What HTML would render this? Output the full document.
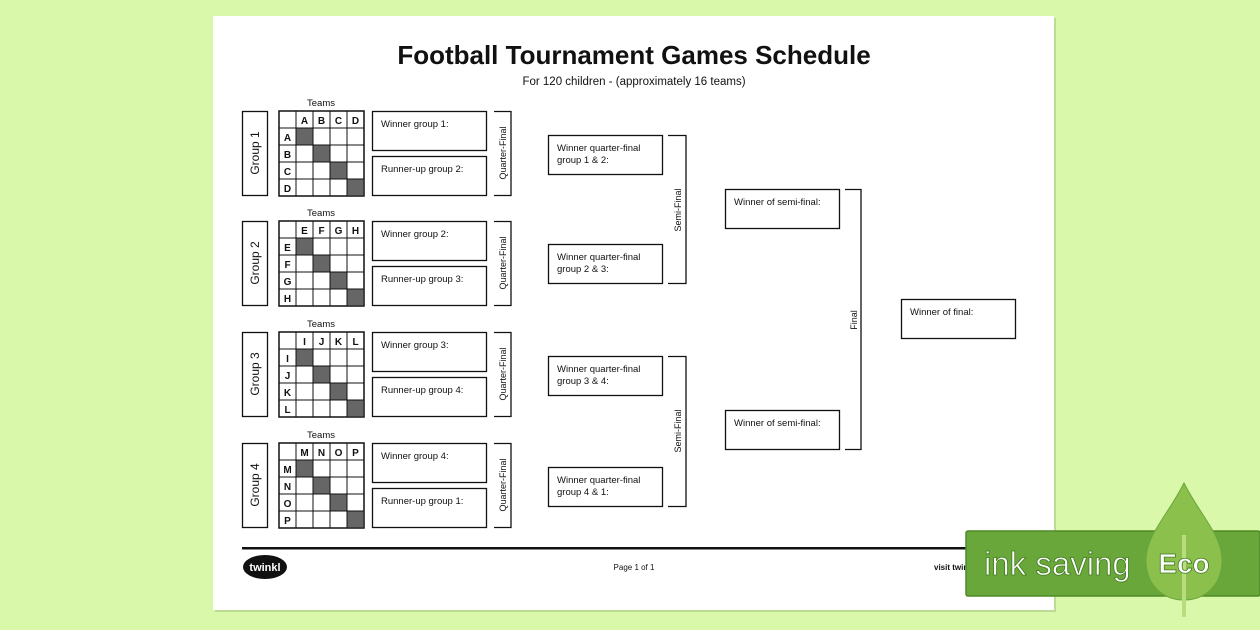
<!DOCTYPE html>
<html><head><meta charset="utf-8"><style>
html,body{margin:0;padding:0;background:#daf8a9;}
svg{display:block;font-family:"Liberation Sans",sans-serif;}
</style></head><body>
<svg width="1260" height="630" viewBox="0 0 1260 630" xmlns="http://www.w3.org/2000/svg">
<rect width="1260" height="630" fill="#daf8a9"/>
<rect x="215" y="18" width="841" height="594" fill="#a9c98a" opacity="0.6"/>
<rect x="213" y="16" width="841" height="594" fill="#fff"/>
<text x="634" y="64" text-anchor="middle" font-size="26" font-weight="bold" fill="#111">Football Tournament Games Schedule</text>
<text x="634" y="85" text-anchor="middle" font-size="11.5" fill="#111">For 120 children - (approximately 16 teams)</text>
<defs>
<g id="grp" fill="none" stroke="#111">
<rect x="242.5" y="0.5" width="25" height="84" stroke-width="1.3"/>
<rect x="279" y="0" width="85" height="85" stroke-width="1.5"/>
<path d="M296 0V85M313 0V85M330 0V85M347 0V85M279 17H364M279 34H364M279 51H364M279 68H364" stroke-width="1"/>
<rect x="296" y="17" width="17" height="17" fill="#666" stroke="#111"/>
<rect x="313" y="34" width="17" height="17" fill="#666" stroke="#111"/>
<rect x="330" y="51" width="17" height="17" fill="#666" stroke="#111"/>
<rect x="347" y="68" width="17" height="17" fill="#666" stroke="#111"/>
<rect x="372.5" y="0.5" width="114" height="39" stroke-width="1.3"/>
<rect x="372.5" y="45.5" width="114" height="39" stroke-width="1.3"/>
<path d="M494 0.5H511V84.5H494" stroke-width="1.3"/>
</g>
</defs>
<g font-size="11" fill="#111">
<!-- group 1 -->
<g transform="translate(0,111)"><use href="#grp"/>
<text x="321" y="-5" text-anchor="middle" font-size="9.5">Teams</text>
<text transform="translate(259,42) rotate(-90)" text-anchor="middle" font-size="12">Group 1</text>
<g font-weight="bold" font-size="10" text-anchor="middle"><text x="304.5" y="13">A</text><text x="321.5" y="13">B</text><text x="338.5" y="13">C</text><text x="355.5" y="13">D</text>
<text x="287.5" y="30">A</text><text x="287.5" y="47">B</text><text x="287.5" y="64">C</text><text x="287.5" y="81">D</text></g>
<text x="381" y="16" font-size="9.5">Winner group 1:</text><text x="381" y="61" font-size="9.5">Runner-up group 2:</text>
<text transform="translate(506,42) rotate(-90)" text-anchor="middle" font-size="9">Quarter-Final</text></g>
<!-- group 2 -->
<g transform="translate(0,221)"><use href="#grp"/>
<text x="321" y="-5" text-anchor="middle" font-size="9.5">Teams</text>
<text transform="translate(259,42) rotate(-90)" text-anchor="middle" font-size="12">Group 2</text>
<g font-weight="bold" font-size="10" text-anchor="middle"><text x="304.5" y="13">E</text><text x="321.5" y="13">F</text><text x="338.5" y="13">G</text><text x="355.5" y="13">H</text>
<text x="287.5" y="30">E</text><text x="287.5" y="47">F</text><text x="287.5" y="64">G</text><text x="287.5" y="81">H</text></g>
<text x="381" y="16" font-size="9.5">Winner group 2:</text><text x="381" y="61" font-size="9.5">Runner-up group 3:</text>
<text transform="translate(506,42) rotate(-90)" text-anchor="middle" font-size="9">Quarter-Final</text></g>
<!-- group 3 -->
<g transform="translate(0,332)"><use href="#grp"/>
<text x="321" y="-5" text-anchor="middle" font-size="9.5">Teams</text>
<text transform="translate(259,42) rotate(-90)" text-anchor="middle" font-size="12">Group 3</text>
<g font-weight="bold" font-size="10" text-anchor="middle"><text x="304.5" y="13">I</text><text x="321.5" y="13">J</text><text x="338.5" y="13">K</text><text x="355.5" y="13">L</text>
<text x="287.5" y="30">I</text><text x="287.5" y="47">J</text><text x="287.5" y="64">K</text><text x="287.5" y="81">L</text></g>
<text x="381" y="16" font-size="9.5">Winner group 3:</text><text x="381" y="61" font-size="9.5">Runner-up group 4:</text>
<text transform="translate(506,42) rotate(-90)" text-anchor="middle" font-size="9">Quarter-Final</text></g>
<!-- group 4 -->
<g transform="translate(0,443)"><use href="#grp"/>
<text x="321" y="-5" text-anchor="middle" font-size="9.5">Teams</text>
<text transform="translate(259,42) rotate(-90)" text-anchor="middle" font-size="12">Group 4</text>
<g font-weight="bold" font-size="10" text-anchor="middle"><text x="304.5" y="13">M</text><text x="321.5" y="13">N</text><text x="338.5" y="13">O</text><text x="355.5" y="13">P</text>
<text x="287.5" y="30">M</text><text x="287.5" y="47">N</text><text x="287.5" y="64">O</text><text x="287.5" y="81">P</text></g>
<text x="381" y="16" font-size="9.5">Winner group 4:</text><text x="381" y="61" font-size="9.5">Runner-up group 1:</text>
<text transform="translate(506,42) rotate(-90)" text-anchor="middle" font-size="9">Quarter-Final</text></g>
</g>
<g fill="none" stroke="#111" stroke-width="1.3">
<rect x="548.5" y="135.5" width="114" height="39"/>
<rect x="548.5" y="244.5" width="114" height="39"/>
<rect x="548.5" y="356.5" width="114" height="39"/>
<rect x="548.5" y="467.5" width="114" height="39"/>
<path d="M668 135.5H686V283.5H668M668 356.5H686V506.5H668"/>
<rect x="725.5" y="189.5" width="114" height="39"/>
<rect x="725.5" y="410.5" width="114" height="39"/>
<path d="M845 189.5H861V449.5H845"/>
<rect x="901.5" y="299.5" width="114" height="39"/>
</g>
<g font-size="9.5" fill="#111">
<text x="557" y="151">Winner quarter-final</text><text x="557" y="163">group 1 &amp; 2:</text>
<text x="557" y="260">Winner quarter-final</text><text x="557" y="272">group 2 &amp; 3:</text>
<text x="557" y="372">Winner quarter-final</text><text x="557" y="384">group 3 &amp; 4:</text>
<text x="557" y="483">Winner quarter-final</text><text x="557" y="495">group 4 &amp; 1:</text>
<text x="734" y="205">Winner of semi-final:</text>
<text x="734" y="426">Winner of semi-final:</text>
<text x="910" y="315">Winner of final:</text>
<text transform="translate(681,210) rotate(-90)" text-anchor="middle" font-size="9">Semi-Final</text>
<text transform="translate(681,431) rotate(-90)" text-anchor="middle" font-size="9">Semi-Final</text>
<text transform="translate(857,320) rotate(-90)" text-anchor="middle" font-size="9">Final</text>
</g>
<rect x="242" y="547" width="800" height="2.5" fill="#111"/>
<ellipse cx="265" cy="567" rx="22" ry="12" fill="#111"/>
<text x="265" y="571" text-anchor="middle" font-size="11" font-weight="bold" fill="#fff">twinkl</text>
<text x="634" y="570" text-anchor="middle" font-size="8" fill="#111">Page 1 of 1</text>
<text x="934" y="570" font-size="8" font-weight="bold" fill="#111">visit twinkl</text>
<rect x="966" y="531" width="294" height="65" rx="2" fill="#6aa73a" stroke="#4e8a26" stroke-width="1.5"/>
<path d="M1184 483 C1200 515 1222 535 1222 560 C1222 585 1205 600 1184 600 C1163 600 1146 585 1146 560 C1146 535 1168 515 1184 483Z" fill="#8cc04d" stroke="#6aa73a"/>
<rect x="1182" y="535" width="4" height="82" fill="#b8dc80"/>
<text x="984" y="575" font-size="33" fill="#fff" stroke="#3f7a1c" stroke-width="0.8">ink saving</text>
<text x="1184" y="573" text-anchor="middle" font-size="28" font-weight="bold" fill="#fff" stroke="#3f7a1c" stroke-width="0.8">Eco</text>
</svg>
</body></html>
